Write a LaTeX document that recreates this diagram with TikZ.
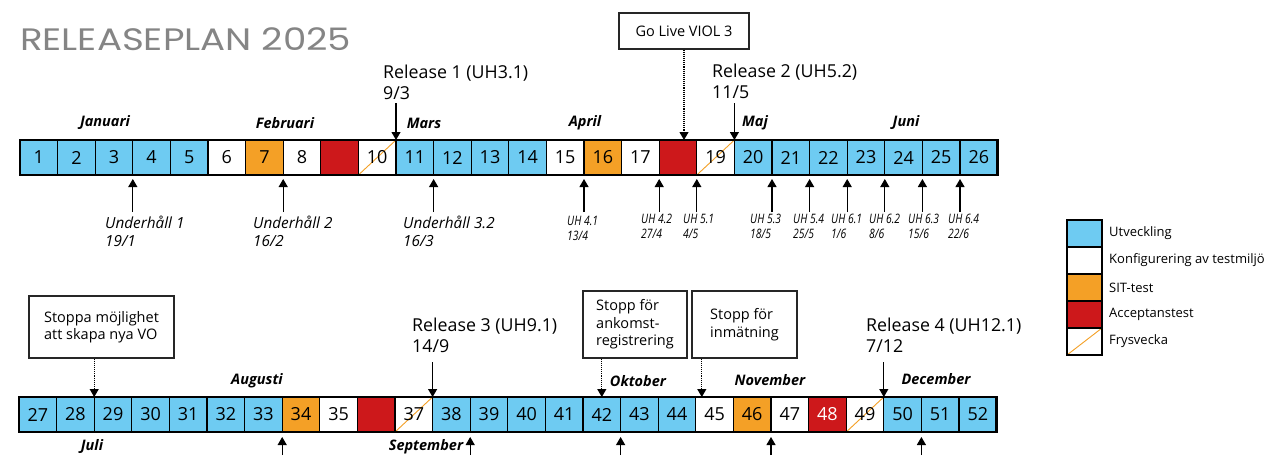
\documentclass[tikz,border=0pt]{standalone}
\usepackage{fontspec}
\setmainfont{Open Sans}
\newfontfamily\titlefont{Poppins}[FakeStretch=1.2]
\newfontfamily\narrowfont{Open Sans}[FakeStretch=0.8]
\usepackage{xcolor}
\usepackage{tikz}
\usetikzlibrary{arrows.meta,positioning}

\definecolor{devblue}{HTML}{6ECBF2}
\definecolor{sitorange}{HTML}{F4A026}
\definecolor{accred}{HTML}{CD181B}
\definecolor{titlegray}{HTML}{858585}

\begin{document}
\begin{tikzpicture}[x=1pt, y=-1pt, >={Triangle[width=9pt,length=8pt]},
  week/.style={draw, line width=1.3pt, minimum width=37.6pt, minimum height=35pt,
    inner sep=0pt, outer sep=0pt, font=\fontsize{18}{18}\selectfont},
  frysline/.style={path picture={\draw[sitorange, line width=0.9pt]
    (path picture bounding box.south west) -- (path picture bounding box.north east);}},
  dev/.style={week, fill=devblue},
  cfg/.style={week, fill=white},
  sit/.style={week, fill=sitorange},
  acc/.style={week, fill=accred, text=white},
  frys/.style={week, fill=white, frysline},
  month/.style={font=\fontsize{14.5}{14.5}\selectfont\bfseries\itshape, inner sep=0pt},
  release/.style={font=\fontsize{17.8}{21}\selectfont, align=left, anchor=north west, inner sep=0pt},
  maint/.style={font=\fontsize{15.3}{18}\selectfont\itshape, align=left, anchor=north west, inner sep=0pt},
  uh/.style={font=\narrowfont\fontsize{13}{15}\selectfont\itshape, align=left, anchor=north west, inner sep=0pt},
  note/.style={draw=black!85, line width=1.2pt, font=\fontsize{14.5}{17.5}\selectfont, align=left, inner sep=0pt},
  pointer/.style={->, line width=1.1pt},
  dotpointer/.style={->, line width=1.1pt, densely dotted},
  key/.style={draw, line width=1.3pt, minimum width=35pt, minimum height=27pt, inner sep=0pt, outer sep=0pt},
  keytext/.style={font=\fontsize{13}{13}\selectfont, inner sep=0pt},
  label distance=7pt]
  \useasboundingbox (0,0) rectangle (1271,455);
  \node[anchor=base west, inner sep=0pt, text=titlegray, font=\titlefont\fontsize{31}{31}\selectfont] (title) at (20,50) {RELEASEPLAN 2025};

  % first half of the year
  \foreach \n/\k in {1/dev,2/dev,3/dev,4/dev,5/dev,6/cfg,7/sit,8/cfg,10/frys,11/dev,12/dev,13/dev,
      14/dev,15/cfg,16/sit,17/cfg,19/frys,20/dev,21/dev,22/dev,23/dev,24/dev,25/dev,26/dev}
    \node[\k] (w\n) at ({20+(\n-0.5)*37.6},157.5) {\n};
  \foreach \n in {9,18}
    \node[acc] (w\n) at ({20+(\n-0.5)*37.6},157.5) {};
  \draw[line width=2.6pt] (w1.north west) rectangle (w26.south east);

  \node[month] (jan) at (105,123) {Januari};
  \node[month] (feb) at (285,123) {Februari};
  \node[month] (mar) at (424,123) {Mars};
  \node[month] (apr) at (585,123) {April};
  \node[month] (maj) at (755,123) {Maj};
  \node[month] (jun) at (906,123) {Juni};

  \node[release] (rel1) at (383,65) {Release 1 (UH3.1)\\9/3};
  \node[release] (rel2) at (712,64) {Release 2 (UH5.2)\\11/5};
  \draw[pointer] ([yshift=37pt]w10.north east) -- (w10.north east);
  \draw[pointer] ([yshift=37pt]w19.north east) -- (w19.north east);

  \node[note, minimum width=130pt, minimum height=36pt] (golive) at (684,31) {Go Live VIOL 3};
  \draw[dotpointer] (golive.south) -- (golive.south |- w18.north);

  \foreach \n in {3,7,11,15,17,18,20,21,22,23,24,25}
    \draw[pointer] ([yshift=-37pt]w\n.south east) -- ([yshift=-4pt]w\n.south east);
  \node[maint] (uh1) at (105,216) {Underhåll 1\\19/1};
  \node[maint] (uh2) at (253,216) {Underhåll 2\\16/2};
  \node[maint] (uh32) at (403,216) {Underhåll 3.2\\16/3};
  \node[uh] (uh41) at (567,216) {UH 4.1\\13/4};
  \node[uh] (uh42) at (641,214) {UH 4.2\\27/4};
  \node[uh] (uh51) at (683,214) {UH 5.1\\4/5};
  \node[uh] (uh53) at (750,214) {UH 5.3\\18/5};
  \node[uh] (uh54) at (793,214) {UH 5.4\\25/5};
  \node[uh] (uh61) at (831,214) {UH 6.1\\1/6};
  \node[uh] (uh62) at (869,214) {UH 6.2\\8/6};
  \node[uh] (uh63) at (908,214) {UH 6.3\\15/6};
  \node[uh] (uh64) at (948,214) {UH 6.4\\22/6};

  % second half of the year
  \foreach \n/\k in {27/dev,28/dev,29/dev,30/dev,31/dev,32/dev,33/dev,34/sit,35/cfg,37/frys,38/dev,
      39/dev,40/dev,41/dev,42/dev,43/dev,44/dev,45/cfg,46/sit,47/cfg,48/acc,49/frys,50/dev,51/dev,52/dev}
    \node[\k] (w\n) at ({19+(\n-26.5)*37.6},414.5) {\n};
  \node[acc] (w36) at ({19+9.5*37.6},414.5) {};
  \draw[line width=2.6pt] (w27.north west) rectangle (w52.south east);

  \node[month] (aug) at (257,381) {Augusti};
  \node[month] (okt) at (638,381) {Oktober};
  \node[month] (nov) at (770,380) {November};
  \node[month] (dec) at (936,379) {December};
  \node[month] (jul) at (92,447) {Juli};
  \node[month] (sep) at (426,447) {September};

  \node[release] (rel3) at (412,318) {Release 3 (UH9.1)\\14/9};
  \node[release] (rel4) at (866,318) {Release 4 (UH12.1)\\7/12};
  \draw[pointer] ([yshift=35pt]w37.north east) -- (w37.north east);
  \draw[pointer] ([yshift=35pt]w49.north east) -- (w49.north east);

  \node[note, minimum width=145pt, minimum height=62pt] (stopvo) at (101.5,327) {Stoppa möjlighet\\att skapa nya VO};
  \node[note, minimum width=104pt, minimum height=67pt] (ankomst) at (635,324.5) {Stopp för\\ankomst-\\registrering};
  \node[note, minimum width=105pt, minimum height=67pt] (inmat) at (744.5,324.5) {Stopp för\\inmätning};
  \draw[dotpointer] (stopvo.south -| w28.north east) -- (w28.north east);
  \draw[dotpointer] (ankomst.south -| w42.north) -- (w42.north);
  \draw[dotpointer] ([xshift=6pt]inmat.south -| w44.north east) -- ([xshift=6pt]w44.north east);

  \foreach \n in {33,38,42,46,50}
    \draw[pointer] ([yshift=-23pt]w\n.south east) -- ([yshift=-5pt]w\n.south east);

  % legend
  \node[key, fill=devblue, label={[keytext]right:Utveckling}] (kdev) at (1084.5,233.5) {};
  \node[key, fill=white, below=0pt of kdev, label={[keytext]right:Konfigurering av testmiljö}] (kcfg) {};
  \node[key, fill=sitorange, below=0pt of kcfg, label={[keytext]right:SIT-test}] (ksit) {};
  \node[key, fill=accred, below=0pt of ksit, label={[keytext]right:Acceptanstest}] (kacc) {};
  \node[key, fill=white, frysline, below=0pt of kacc, label={[keytext]right:Frysvecka}] (kfrys) {};
\end{tikzpicture}
\end{document}
